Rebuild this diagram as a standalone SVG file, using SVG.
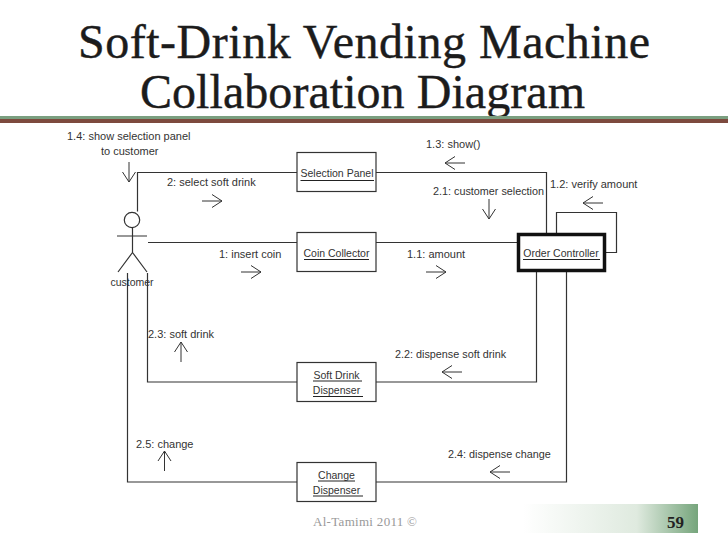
<svg xmlns="http://www.w3.org/2000/svg" width="728" height="546" viewBox="0 0 728 546">
<style>
.t{font-family:"Liberation Serif",serif;font-size:48px;fill:#1c1c1c;stroke:#1c1c1c;stroke-width:.4;text-anchor:middle}
.l{font-family:"Liberation Sans",Arial,sans-serif;font-size:11px;fill:#333}
.k{font-size:10.500px}
.s{font-size:10.800px}
.m{text-anchor:middle}
.n{fill:#fff;stroke:#333;stroke-width:1.2}
.c{fill:none;stroke:#333;stroke-width:1.2}
.a{fill:none;stroke:#333;stroke-width:1}
.u{stroke:#222;stroke-width:1}
</style>
<defs>
<linearGradient id="g" x1="0" x2="1" y1="0" y2="0"><stop offset="0" stop-color="#fff"/><stop offset=".65" stop-color="#dfeadf"/><stop offset="1" stop-color="#76a57c"/></linearGradient>
<path id="ar" class="a" d="M-10 0H10M0-6.500L10 0L0 6.500"/>
</defs>
<rect width="728" height="546" fill="#fff"/>
<text class="t" x="364" y="58" textLength="572">Soft-Drink Vending Machine</text>
<text class="t" x="362.500" y="108" textLength="445">Collaboration Diagram</text>
<rect x="0" y="116" width="728" height="3" fill="#7b9f80"/>
<rect x="0" y="119" width="728" height="4" fill="#7d4a3e"/>
<rect x="523" y="504" width="175" height="29" fill="url(#g)"/>
<text x="313" y="526" font-family="Liberation Serif,serif" font-size="13" fill="#999" letter-spacing=".3">Al-Tamimi 2011 ©</text>
<text x="667" y="528" font-family="Liberation Serif,serif" font-size="17" font-weight="bold" fill="#222">59</text>
<g id="connectors">
<path class="c" d="M137.500 211.500V172.500H297M376 172.500H546.500V233"/>
<path class="c" d="M148 242.500H297M376 242.500H517"/>
<path class="c" d="M556.500 233V212.500H616.500V252.500H606"/>
<path class="c" d="M536.500 272V382H376M297 382H147.500V273"/>
<path class="c" d="M566.500 272V482H376M297 482H127.500V273"/>
<use href="#ar" transform="translate(212 201)"/>
<use href="#ar" transform="translate(251 272)"/>
<use href="#ar" transform="translate(436 272)"/>
<use href="#ar" transform="translate(455 163) rotate(180)"/>
<use href="#ar" transform="translate(593 203) rotate(180)"/>
<use href="#ar" transform="translate(489 209) rotate(90)"/>
<use href="#ar" transform="translate(129 172) rotate(90)"/>
<use href="#ar" transform="translate(452 372) rotate(180)"/>
<use href="#ar" transform="translate(500 472) rotate(180)"/>
<use href="#ar" transform="translate(181 352) rotate(-90)"/>
<use href="#ar" transform="translate(164.500 461) rotate(-90)"/>
</g>
<g id="labels">
<text class="l" x="67" y="140">1.4: show selection panel</text>
<text class="l" x="101" y="155">to customer</text>
<text class="l" x="167" y="186">2: select soft drink</text>
<text class="l" x="219" y="258">1: insert coin</text>
<text class="l" x="407" y="258">1.1: amount</text>
<text class="l" x="426" y="148">1.3: show()</text>
<text class="l s" x="433" y="195">2.1: customer selection</text>
<text class="l" x="550" y="188">1.2: verify amount</text>
<text class="l" x="148" y="338">2.3: soft drink</text>
<text class="l s" x="395" y="358">2.2: dispense soft drink</text>
<text class="l" x="136" y="448">2.5: change</text>
<text class="l s" x="448" y="458">2.4: dispense change</text>
</g>
<g id="customer">
<circle class="c" cx="132" cy="220" r="7.700"/>
<path class="c" d="M132.500 228V252.500M117 236H147M132.500 252.500L118 272M132.500 252.500L147 272"/>
<text class="l k m" x="132" y="286">customer</text>
</g>
<g id="selection-panel">
<rect class="n" x="297" y="152.500" width="79" height="39"/>
<text class="l k m" x="337" y="177">Selection Panel</text>
<path class="u" d="M300.500 180.500H374"/>
</g>
<g id="coin-collector">
<rect class="n" x="297" y="232.500" width="79" height="39"/>
<text class="l k m" x="336.500" y="257">Coin Collector</text>
<path class="u" d="M304 259.500H369"/>
</g>
<g id="order-controller">
<rect x="518.500" y="234.500" width="86" height="36" fill="#fff" stroke="#111" stroke-width="3.500"/>
<text class="l k m" x="561" y="257">Order Controller</text>
<path class="u" d="M523 259.500H600"/>
</g>
<g id="soft-drink-dispenser">
<rect class="n" x="297" y="362.500" width="79" height="39"/>
<text class="l k m" x="336.500" y="379">Soft Drink</text>
<text class="l k m" x="336.500" y="394">Dispenser</text>
<path class="u" d="M313 381H362M313 396.500H363"/>
</g>
<g id="change-dispenser">
<rect class="n" x="297" y="462.500" width="79" height="39"/>
<text class="l k m" x="336.500" y="479">Change</text>
<text class="l k m" x="336.500" y="494">Dispenser</text>
<path class="u" d="M318 481H355M313 496H363"/>
</g>
</svg>
